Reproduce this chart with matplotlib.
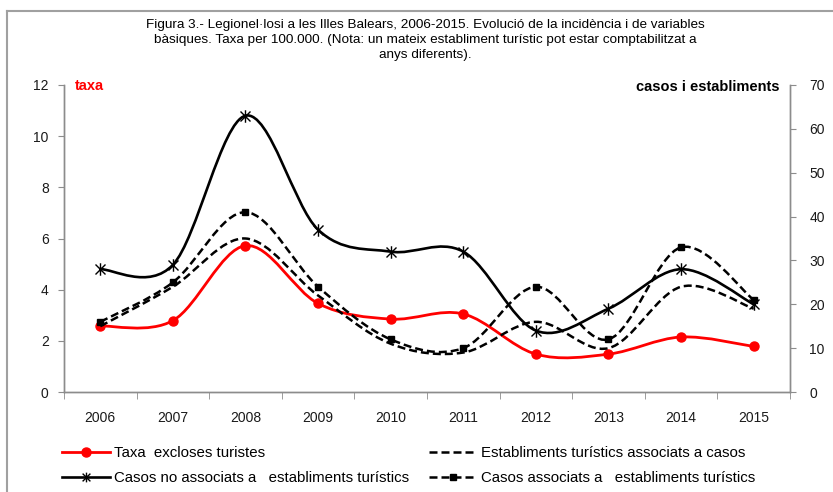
import numpy as np
import matplotlib
matplotlib.use('Agg')
import matplotlib.pyplot as plt
from matplotlib.path import Path
from matplotlib.patches import PathPatch
from matplotlib.lines import Line2D

# dades llegides del gràfic
years = ['2006', '2007', '2008', '2009', '2010', '2011', '2012', '2013', '2014', '2015']
taxa = [2.58, 2.79, 5.72, 3.46, 2.85, 3.05, 1.48, 1.48, 2.15, 1.78]
casos_no_assoc = [28, 29, 63, 37, 32, 32, 14, 19, 28, 20]
casos_assoc = [16, 25, 41, 24, 12, 10, 24, 12, 33, 21]
establiments = [15, 24, 35, 22, 11, 9, 16, 10, 24, 19]

title = ("Figura 3.- Legionel·losi a les Illes Balears, 2006-2015. Evolució de la incidència i de variables\n"
         "bàsiques. Taxa per 100.000. (Nota: un mateix establiment turístic pot estar comptabilitzat a\n"
         "anys diferents).")

narrow = ['Liberation Sans Narrow', 'Liberation Sans', 'DejaVu Sans']
plt.rcParams['font.family'] = ['Liberation Sans', 'DejaVu Sans']

W, H = 833, 492
fig = plt.figure(figsize=(W / 100, H / 100), dpi=100)
ax = fig.add_axes([64 / W, 1 - 392 / H, (790 - 64) / W, (392 - 85) / H])
ax2 = ax.twinx()

GRAY = '#8c8c8c'
x = np.arange(len(years))


def smooth_path(xs, ys):
    # corba suau tipus Excel (Catmull-Rom -> Bezier)
    pts = np.column_stack([xs, ys]).astype(float)
    n = len(pts)
    verts = [pts[0]]
    codes = [Path.MOVETO]
    for i in range(n - 1):
        p0 = pts[max(i - 1, 0)]
        p1 = pts[i]
        p2 = pts[i + 1]
        p3 = pts[min(i + 2, n - 1)]
        verts += [p1 + (p2 - p0) / 6, p2 - (p3 - p1) / 6, p2]
        codes += [Path.CURVE4] * 3
    return Path(verts, codes)


def draw_smooth(a, ys, color, lw, ls='-'):
    patch = PathPatch(smooth_path(x, ys), fill=False, edgecolor=color, lw=lw,
                      linestyle=ls, capstyle='butt', joinstyle='round')
    a.add_patch(patch)


star = Path([(-1, -1), (1, 1), (-1, 1), (1, -1), (0, -1.25), (0, 1.25)],
            [Path.MOVETO, Path.LINETO, Path.MOVETO, Path.LINETO, Path.MOVETO, Path.LINETO])
dash = (0, (3.2, 1.6))

# taxa (eix esquerre)
draw_smooth(ax, taxa, 'red', 2.0)
ax.plot(x, taxa, ls='none', marker='o', ms=6.5, color='red')

# casos i establiments (eix dret)
draw_smooth(ax2, establiments, 'black', 1.8, dash)
draw_smooth(ax2, casos_assoc, 'black', 1.8, dash)
ax2.plot(x, casos_assoc, ls='none', marker='s', ms=5, color='black')
draw_smooth(ax2, casos_no_assoc, 'black', 1.9)
ax2.plot(x, casos_no_assoc, ls='none', marker=star, ms=9, mfc='none', mec='black', mew=1.0)

ax.set_xlim(-0.5, len(years) - 0.5)
ax.set_ylim(0, 12)
ax2.set_ylim(0, 70)
ax.set_yticks(np.arange(0, 13, 2))
ax2.set_yticks(np.arange(0, 71, 10))
ax.set_xticks(x)
ax.set_xticklabels(years)
ax.set_xticks(np.arange(-0.5, len(years), 1), minor=True)

for a in (ax, ax2):
    for s in a.spines.values():
        s.set_color(GRAY)
        s.set_linewidth(1.0)
    a.spines['top'].set_visible(False)
ax.tick_params(axis='x', which='major', length=0, pad=13.5, labelsize=10, labelcolor='#1a1a1a')
ax.tick_params(axis='x', which='minor', length=5, color=GRAY, direction='out')
ax.tick_params(axis='y', length=4, color=GRAY, pad=7, labelsize=10, labelcolor='#1a1a1a')
ax2.tick_params(axis='y', length=4, color=GRAY, pad=10, labelsize=10, labelcolor='#1a1a1a')

fig.text(75 / W, 1 - 86 / H, 'taxa', color='red', fontweight='bold', fontsize=10.5,
         ha='left', va='center')
fig.text(779 / W, 1 - 87 / H, 'casos i establiments', color='black', fontweight='bold',
         fontsize=10.5, ha='right', va='center')
fig.text(425 / W, 1 - 40 / H, title, ha='center', va='center', multialignment='center',
         fontsize=9.7, family=narrow, linespacing=1.38)

# llegenda
h_taxa = Line2D([], [], color='red', lw=2.0, marker='o', ms=6.5)
h_no = Line2D([], [], color='black', lw=1.9, marker=star, ms=7, mfc='none', mew=1.0)
h_est = Line2D([], [], color='black', lw=1.8, ls=dash)
h_as = Line2D([], [], color='black', lw=1.8, ls=dash, marker='s', ms=5)
leg_kw = dict(frameon=False, handlelength=3.2, handletextpad=0.25, borderpad=0,
              borderaxespad=0, labelspacing=0.75, prop={'family': narrow, 'size': 10.8})
leg1 = fig.legend([h_taxa, h_no], ['Taxa  excloses turistes', 'Casos no associats a   establiments turístics'],
                  loc='upper left', bbox_to_anchor=(62 / W, 1 - 446 / H), **leg_kw)
leg2 = fig.legend([h_est, h_as], ['Establiments turístics associats a casos', 'Casos associats a   establiments turístics'],
                  loc='upper left', bbox_to_anchor=(429 / W, 1 - 446 / H), **leg_kw)

# marc del gràfic
fig.add_artist(Line2D([7 / W, 7 / W], [1 - 11 / H, 0], transform=fig.transFigure, color='#a0a0a0', lw=1.5))
fig.add_artist(Line2D([7 / W, 1], [1 - 11 / H, 1 - 11 / H], transform=fig.transFigure, color='#a0a0a0', lw=1.5))

fig.savefig('out.png', dpi=100)
